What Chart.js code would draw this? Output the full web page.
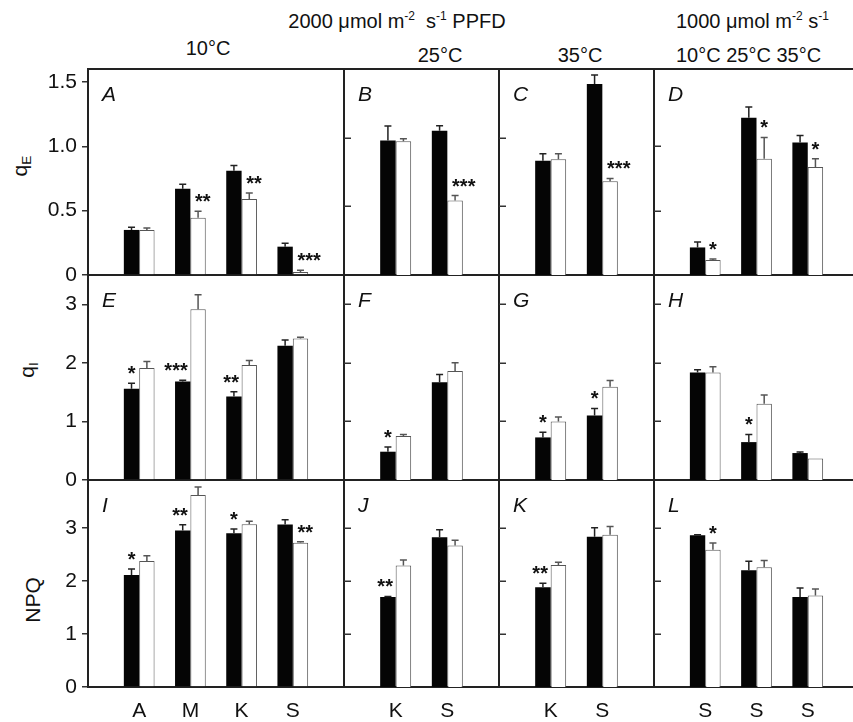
<!DOCTYPE html>
<html>
<head>
<meta charset="utf-8">
<script src="https://cdn.jsdelivr.net/npm/chart.js@4.4.1/dist/chart.umd.min.js"></script>
<style>
  body { margin: 0; width: 853px; height: 722px; overflow: hidden; background: #fff; position: relative;
         font-family: "Liberation Sans", Arial, sans-serif; color: #111; }
  canvas { position: absolute; }
  .txt { position: absolute; font-size: 20px; white-space: nowrap; line-height: 1; }
  .c { transform: translate(-50%, -50%); }
  .l { transform: translate(0, -50%); }
  .ytitle { position: absolute; font-size: 21px; white-space: nowrap; line-height: 1;
            transform: translate(-50%, -50%) rotate(-90deg); }
  sup { font-size: 0.6em; vertical-align: 0.65em; line-height: 0; }
  sub { font-size: 0.65em; vertical-align: -0.3em; line-height: 0; }
</style>
</head>
<body>
<div class="txt c" style="left:397px;top:21px">2000 μmol m<sup>-2</sup>&nbsp; s<sup>-1</sup> PPFD</div>
<div class="txt l" style="left:676px;top:21px">1000 μmol m<sup>-2</sup> s<sup>-1</sup></div>
<div class="txt c" style="left:208px;top:48px">10°C</div>
<div class="txt c" style="left:440px;top:55px">25°C</div>
<div class="txt c" style="left:580px;top:55px">35°C</div>
<div class="txt l" style="left:676px;top:55px">10°C 25°C 35°C</div>
<div class="ytitle" style="left:19px;top:166px">q<sub>E</sub></div>
<div class="ytitle" style="left:26px;top:370px">q<sub>I</sub></div>
<div class="ytitle" style="left:32px;top:600px">NPQ</div>
<script>
// categories
const cats4 = ['A', 'M', 'K', 'S'];
const cats2 = ['K', 'S'];
const cats3 = ['S', 'S', 'S'];

// tick values per row
const ticksQE = [0, 0.5, 1.0, 1.5];
const ticksQI = [0, 1, 2, 3];
const ticksNPQ = [0, 1, 2, 3];
const innerQE = [0.5, 1.0];
const innerQI = [1, 2, 3];
const innerNPQ = [1, 2, 3];

// qE
const blackA = [0.35, 0.67, 0.81, 0.22];
const blackErrA = [0.02, 0.035, 0.04, 0.026];
const whiteA = [0.35, 0.445, 0.59, 0.023];
const whiteErrA = [0.015, 0.05, 0.047, 0.013];
const starsA = [[1, 1, '**'], [2, 1, '**'], [3, 1, '***']];

const blackB = [0.98, 1.05];
const blackErrB = [0.105, 0.037];
const whiteB = [0.973, 0.542];
const whiteErrB = [0.02, 0.036];
const starsB = [[1, 1, '***']];

const blackC = [0.832, 1.391];
const blackErrC = [0.05, 0.066];
const whiteC = [0.842, 0.683];
const whiteErrC = [0.04, 0.02];
const starsC = [[1, 1, '***']];

const blackD = [0.214, 1.222, 1.03];
const blackErrD = [0.043, 0.083, 0.054];
const whiteD = [0.116, 0.903, 0.839];
const whiteErrD = [0.008, 0.165, 0.064];
const starsD = [[0, 1, '*'], [1, 1, '*'], [2, 1, '*']];

// qI
const blackE = [1.56, 1.68, 1.425, 2.294];
const blackErrE = [0.09, 0.023, 0.08, 0.097];
const whiteE = [1.914, 2.914, 1.965, 2.414];
const whiteErrE = [0.11, 0.25, 0.074, 0.023];
const starsE = [[0, 0, '*'], [1, 0, '***'], [2, 0, '**']];

const blackF = [0.483, 1.67];
const blackErrF = [0.08, 0.13];
const whiteF = [0.75, 1.863];
const whiteErrF = [0.028, 0.14];
const starsF = [[0, 0, '*']];

const blackG = [0.727, 1.101];
const blackErrG = [0.09, 0.12];
const whiteG = [0.999, 1.59];
const whiteErrG = [0.075, 0.11];
const starsG = [[0, 0, '*'], [1, 0, '*']];

const blackH = [1.834, 0.647, 0.46];
const blackErrH = [0.05, 0.13, 0.017];
const whiteH = [1.834, 1.30, 0.368];
const whiteErrH = [0.10, 0.15, 0];
const starsH = [[1, 0, '*']];

// NPQ
const blackI = [2.111, 2.949, 2.898, 3.062];
const blackErrI = [0.11, 0.107, 0.08, 0.09];
const whiteI = [2.376, 3.616, 3.068, 2.716];
const whiteErrI = [0.095, 0.15, 0.057, 0.02];
const starsI = [[0, 0, '*'], [1, 0, '**'], [2, 0, '*'], [3, 1, '**']];

const blackJ = [1.696, 2.823];
const blackErrJ = [0.01, 0.14];
const whiteJ = [2.287, 2.665];
const whiteErrJ = [0.107, 0.10];
const starsJ = [[0, 0, '**']];

const blackK = [1.877, 2.83];
const blackErrK = [0.076, 0.17];
const whiteK = [2.3, 2.868];
const whiteErrK = [0.05, 0.157];
const starsK = [[0, 0, '**']];

const blackL = [2.86, 2.198, 1.696];
const blackErrL = [0.01, 0.17, 0.17];
const whiteL = [2.584, 2.255, 1.726];
const whiteErrL = [0.13, 0.13, 0.12];
const starsL = [[0, 1, '*']];

// layout
const FONT = '"Liberation Sans", Arial, sans-serif';
const rowTop = [69, 275, 480];
const rowBottom = [275, 480, 687];
const colLeft = [88, 344, 499, 654];
const colRight = [344, 499, 654, 859];
const PAD = 14;
const rows = [
  { ticks: ticksQE, inner: innerQE, fmt: v => v === 0 ? '0' : v.toFixed(1) },
  { ticks: ticksQI, inner: innerQI, fmt: v => String(v) },
  { ticks: ticksNPQ, inner: innerNPQ, fmt: v => String(v) }
];

const panels = [
  { letter: 'A', row: 0, col: 0, max: 1.6, cats: cats4, black: blackA, blackErr: blackErrA, white: whiteA, whiteErr: whiteErrA, stars: starsA },
  { letter: 'B', row: 0, col: 1, max: 1.5, cats: cats2, black: blackB, blackErr: blackErrB, white: whiteB, whiteErr: whiteErrB, stars: starsB },
  { letter: 'C', row: 0, col: 2, max: 1.5, cats: cats2, black: blackC, blackErr: blackErrC, white: whiteC, whiteErr: whiteErrC, stars: starsC },
  { letter: 'D', row: 0, col: 3, max: 1.6, cats: cats3, black: blackD, blackErr: blackErrD, white: whiteD, whiteErr: whiteErrD, stars: starsD },
  { letter: 'E', row: 1, col: 0, max: 3.5, cats: cats4, black: blackE, blackErr: blackErrE, white: whiteE, whiteErr: whiteErrE, stars: starsE },
  { letter: 'F', row: 1, col: 1, max: 3.5, cats: cats2, black: blackF, blackErr: blackErrF, white: whiteF, whiteErr: whiteErrF, stars: starsF },
  { letter: 'G', row: 1, col: 2, max: 3.5, cats: cats2, black: blackG, blackErr: blackErrG, white: whiteG, whiteErr: whiteErrG, stars: starsG },
  { letter: 'H', row: 1, col: 3, max: 3.5, cats: cats3, black: blackH, blackErr: blackErrH, white: whiteH, whiteErr: whiteErrH, stars: starsH },
  { letter: 'I', row: 2, col: 0, max: 3.9, cats: cats4, black: blackI, blackErr: blackErrI, white: whiteI, whiteErr: whiteErrI, stars: starsI },
  { letter: 'J', row: 2, col: 1, max: 3.9, cats: cats2, black: blackJ, blackErr: blackErrJ, white: whiteJ, whiteErr: whiteErrJ, stars: starsJ },
  { letter: 'K', row: 2, col: 2, max: 3.9, cats: cats2, black: blackK, blackErr: blackErrK, white: whiteK, whiteErr: whiteErrK, stars: starsK },
  { letter: 'L', row: 2, col: 3, max: 3.9, cats: cats3, black: blackL, blackErr: blackErrL, white: whiteL, whiteErr: whiteErrL, stars: starsL }
];

// frame lines, inner ticks, error bars, stars, panel letter
const panelDeco = {
  id: 'panelDeco',
  afterDraw(chart, args, o) {
    const ctx = chart.ctx, a = chart.chartArea, ys = chart.scales.y;
    ctx.save();
    ctx.lineCap = 'butt';
    if (o.topLine) {
      ctx.strokeStyle = '#222'; ctx.lineWidth = 2;
      ctx.beginPath(); ctx.moveTo(a.left - 1, a.top); ctx.lineTo(a.right, a.top); ctx.stroke();
    }
    ctx.strokeStyle = '#333'; ctx.lineWidth = 1.5;
    o.inner.forEach(v => {
      const y = Math.round(ys.getPixelForValue(v)) + 0.25;
      ctx.beginPath(); ctx.moveTo(a.left, y); ctx.lineTo(a.left + 7, y); ctx.stroke();
    });
    chart.data.datasets.forEach((ds, di) => {
      chart.getDatasetMeta(di).data.forEach((bar, i) => {
        const v = ds.data[i], e = ds.errors[i];
        if (v == null || !e) return;
        const y0 = ys.getPixelForValue(v), y1 = ys.getPixelForValue(v + e);
        ctx.strokeStyle = ds.errColor; ctx.lineWidth = 1.5;
        ctx.beginPath();
        ctx.moveTo(bar.x, y0); ctx.lineTo(bar.x, y1);
        ctx.moveTo(bar.x - 3.5, y1); ctx.lineTo(bar.x + 3.5, y1);
        ctx.stroke();
      });
    });
    ctx.fillStyle = '#111';
    ctx.font = 'bold 20px ' + FONT;
    ctx.textBaseline = 'alphabetic';
    o.stars.forEach(([ci, si, txt]) => {
      const ds = chart.data.datasets[si];
      const idx = ci + 1;
      const bar = chart.getDatasetMeta(si).data[idx];
      const yTop = ys.getPixelForValue(ds.data[idx] + (ds.errors[idx] || 0));
      let x = bar.x;
      if (txt.length === 1) ctx.textAlign = 'center';
      else if (si === 0) { ctx.textAlign = 'right'; x += 5; }
      else { ctx.textAlign = 'left'; x -= 3; }
      ctx.fillText(txt, x, yTop - 3);
    });
    ctx.font = 'italic 21px ' + FONT;
    ctx.textAlign = 'left';
    ctx.fillText(o.letter, a.left + 14, a.top + 32);
    ctx.restore();
  }
};

function makePanel(p) {
  const left = p.col === 0;
  const bottom = p.row === 2;
  const row = rows[p.row];
  const L = colLeft[p.col] - (left ? 88 : PAD);
  const T = rowTop[p.row] - PAD;
  const W = colRight[p.col] + PAD - L;
  const H = (bottom ? 722 : rowBottom[p.row] + PAD) - T;
  const cv = document.createElement('canvas');
  cv.width = W; cv.height = H;
  cv.style.left = L + 'px'; cv.style.top = T + 'px';
  cv.style.width = W + 'px'; cv.style.height = H + 'px';
  document.body.appendChild(cv);

  const pad = arr => [null, ...arr, null];
  new Chart(cv, {
    type: 'bar',
    data: {
      labels: ['', ...p.cats, ''],
      datasets: [
        { data: pad(p.black), errors: pad(p.blackErr), errColor: '#222',
          backgroundColor: '#050505', borderWidth: 0,
          categoryPercentage: 0.6, barPercentage: 1.0 },
        { data: pad(p.white), errors: pad(p.whiteErr), errColor: '#555',
          backgroundColor: '#fff', borderColor: '#555', borderWidth: 1,
          categoryPercentage: 0.6, barPercentage: 1.0 }
      ]
    },
    options: {
      responsive: false,
      animation: false,
      devicePixelRatio: 1,
      layout: { padding: { left: left ? 0 : PAD, top: PAD, right: PAD, bottom: bottom ? 0 : PAD } },
      plugins: {
        legend: { display: false },
        tooltip: { enabled: false },
        panelDeco: { topLine: p.row === 0, inner: left ? [] : row.inner, stars: p.stars, letter: p.letter }
      },
      scales: {
        x: {
          type: 'category',
          offset: false,
          z: 1,
          border: { display: true, color: '#222', width: 2 },
          grid: { display: false, drawTicks: false },
          ticks: { display: bottom, autoSkip: false, maxRotation: 0, padding: 12, color: '#111',
                   font: { size: 21, family: FONT } },
          afterFit: s => { s.height = bottom ? 35 : 0; s.paddingLeft = 0; s.paddingRight = 0; }
        },
        y: {
          min: 0,
          max: p.max,
          z: 1,
          border: { display: true, color: '#222', width: 2 },
          grid: { display: left, drawOnChartArea: false, drawTicks: true, tickLength: 6,
                  color: '#333', lineWidth: 1.5 },
          ticks: { display: left, padding: 5, color: '#111', font: { size: 21, family: FONT },
                   callback: v => row.fmt(v) },
          afterBuildTicks: s => { s.ticks = row.ticks.map(v => ({ value: v })); },
          afterFit: s => { s.width = left ? 88 : 0; s.paddingTop = 0; s.paddingBottom = 0; }
        }
      }
    },
    plugins: [panelDeco]
  });
}

panels.forEach(makePanel);
</script>
</body>
</html>
